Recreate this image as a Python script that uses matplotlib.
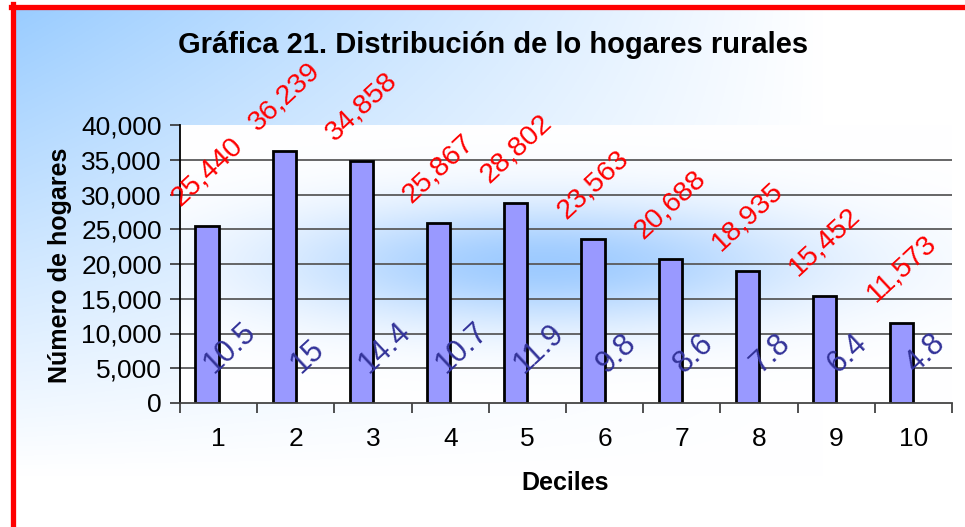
import numpy as np
import matplotlib
matplotlib.use('Agg')
import matplotlib.pyplot as plt
from matplotlib.lines import Line2D
from matplotlib.ticker import FuncFormatter

plt.rcParams['font.family'] = ['Liberation Sans', 'DejaVu Sans']

deciles = ['1', '2', '3', '4', '5', '6', '7', '8', '9', '10']
hogares = [25440, 36239, 34858, 25867, 28802, 23563, 20688, 18935, 15452, 11573]
porcentaje = [10.5, 15, 14.4, 10.7, 11.9, 9.8, 8.6, 7.8, 6.4, 4.8]
yticks = [0, 5000, 10000, 15000, 20000, 25000, 30000, 35000, 40000]

W, H = 965, 527
fig = plt.figure(figsize=(W / 100, H / 100), dpi=100)
fig.patch.set_facecolor('white')

# background gradient: light blue in top-left corner fading to white
bx0, btop = 13 / W, 1 - 6.5 / H
bg = fig.add_axes([bx0, 0, 1 - bx0, btop], zorder=-5)
gx, gy = np.meshgrid(np.linspace(0, 1, 400), np.linspace(0, 1, 250))
w = np.clip(1 - gx / 0.85, 0, 1) * np.clip(1 - gy / 0.9, 0, 1)
blue = np.array([153, 204, 255]) / 255
img = 1 - w[..., None] * (1 - blue)
bg.imshow(img, extent=[0, 1, 0, 1], aspect='auto', origin='upper')
bg.axis('off')

# red frame (top and left only visible)
fig.add_artist(Line2D([bx0, bx0], [0, btop + 2.5 / H], color='red', lw=3.8,
                      transform=fig.transFigure))
fig.add_artist(Line2D([bx0 - 2.5 / W, 1], [btop, btop], color='red', lw=3.8,
                      transform=fig.transFigure))

ax = fig.add_axes([180 / W, 1 - 403 / H, (952 - 180) / W, (403 - 125) / H])
ax.set_facecolor('none')

x = np.arange(1, len(deciles) + 1)

# glow inside the plot area
ex, ey = np.meshgrid(np.linspace(0, 1, 400), np.linspace(0, 1, 200))
g = np.exp(-(((ex - 0.47) / 0.34) ** 2 + ((ey - 0.50) / 0.22) ** 2))
glow_blue = np.array([158, 203, 255]) / 255
glow = 1 - g[..., None] * (1 - glow_blue)
ax.imshow(glow, extent=[0.5, 10.5, 0, 40000], aspect='auto', origin='upper', zorder=0)

ax.hlines(yticks[1:-1], 0.5, 10.5, color='#5a5a5a', lw=1.3, zorder=1)
ax.bar(x - 0.15, hogares, width=0.3, color='#9999FF', edgecolor='black',
       linewidth=2, zorder=3)

for xi, v in zip(x, hogares):
    ax.annotate(f'{v:,}', xy=(xi - 0.15, v), xytext=(0, 11), textcoords='offset points',
                ha='center', va='bottom', rotation=43, color='red', fontsize=20.5,
                zorder=5, annotation_clip=False)
for xi, p in zip(x, porcentaje):
    ax.annotate(f'{p:g}', xy=(xi + 0.15, 0), xytext=(0, 17), textcoords='offset points',
                ha='center', va='bottom', rotation=43, color='#333399', fontsize=22,
                zorder=5)

ax.set_xlim(0.5, 10.5)
ax.set_ylim(0, 40000)
ax.set_yticks(yticks)
ax.yaxis.set_major_formatter(FuncFormatter(lambda v, pos: f'{int(v):,}'))
ax.set_xticks(np.arange(0.5, 11, 1))
ax.set_xticklabels([])
ax.set_xticks(x, minor=True)
ax.set_xticklabels(deciles, minor=True)
ax.tick_params(axis='x', which='major', length=7, width=1.2, color='#333333')
ax.tick_params(axis='x', which='minor', length=0, pad=17, labelsize=19)
ax.tick_params(axis='y', length=7, width=1.2, color='#333333', pad=6, labelsize=19)

for sp in ['top', 'right']:
    ax.spines[sp].set_visible(False)
ax.spines['left'].set_color('black')
ax.spines['left'].set_linewidth(1.3)
ax.spines['bottom'].set_color('#444444')
ax.spines['bottom'].set_linewidth(1.3)
ax.spines['bottom'].set_zorder(4)

fig.text(493 / W, 1 - 45 / H, 'Gráfica 21. Distribución de lo hogares rurales',
         ha='center', va='center', fontsize=21, fontweight='bold')
fig.text(60 / W, 1 - 265 / H, 'Número de hogares', ha='center', va='center',
         rotation=90, fontsize=18, fontweight='bold')
fig.text(565 / W, 1 - 483 / H, 'Deciles', ha='center', va='center',
         fontsize=18, fontweight='bold')

fig.savefig('out.png', dpi=100)
